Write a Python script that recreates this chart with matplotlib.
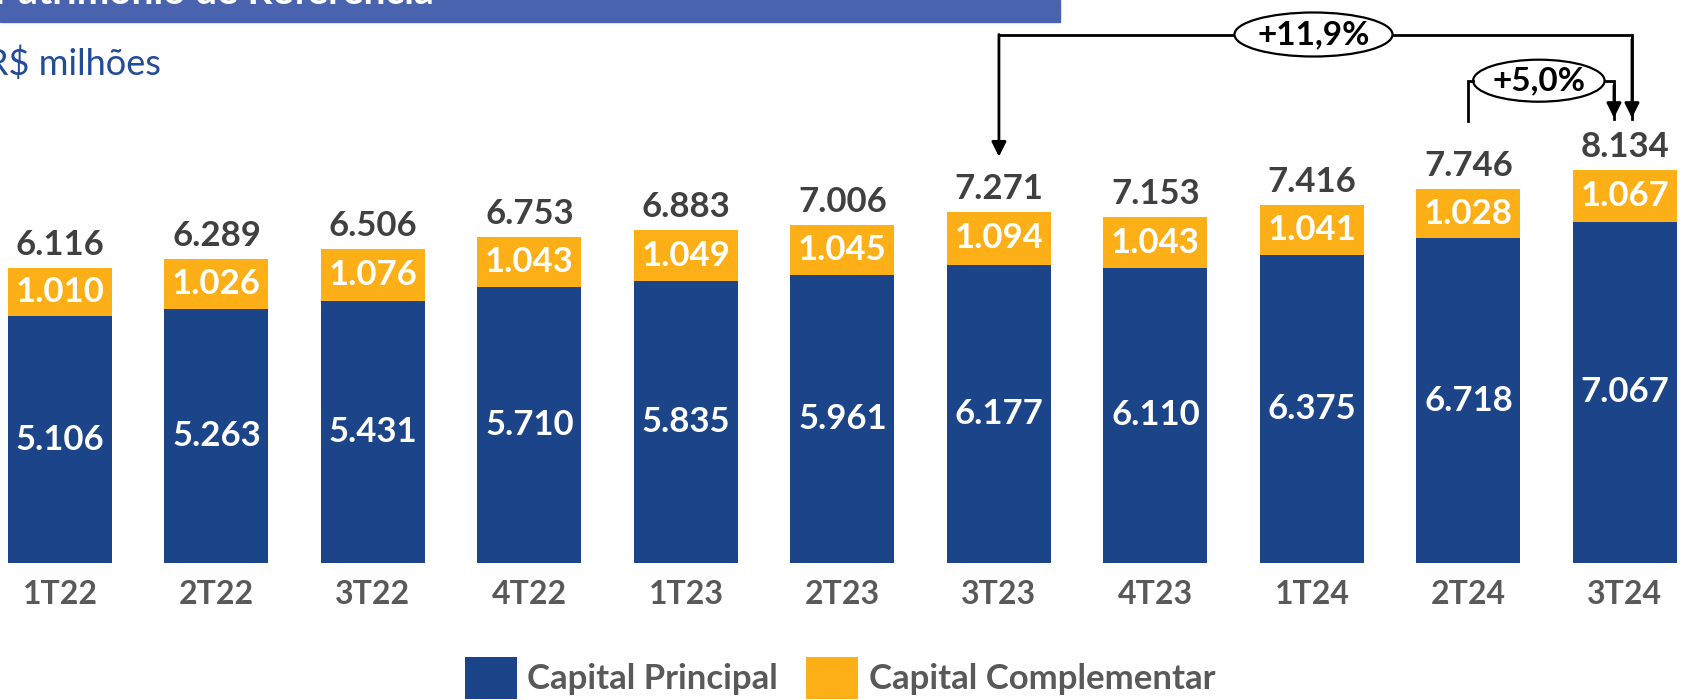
import matplotlib
matplotlib.use("Agg")
import matplotlib.pyplot as plt
from matplotlib.patches import Ellipse, Patch, Rectangle

# Patrimônio de Referência (R$ milhões)
quarters = ["1T22", "2T22", "3T22", "4T22", "1T23", "2T23", "3T23", "4T23", "1T24", "2T24", "3T24"]
capital_principal = [5106, 5263, 5431, 5710, 5835, 5961, 6177, 6110, 6375, 6718, 7067]
capital_complementar = [1010, 1026, 1076, 1043, 1049, 1045, 1094, 1043, 1041, 1028, 1067]
totais = [6116, 6289, 6506, 6753, 6883, 7006, 7271, 7153, 7416, 7746, 8134]
var_anual = "+11,9%"
var_trimestral = "+5,0%"

BLUE = "#1C4489"
ORANGE = "#FCAF17"
HEADER = "#4A63AE"
SUB = "#234C98"
DARK = "#404040"
GRAY = "#595959"
FONT = "Lato"

plt.rcParams["font.family"] = [FONT, "DejaVu Sans"]

fig = plt.figure(figsize=(16.88, 7.0), dpi=100)
ax = fig.add_axes([0, 0, 1, 1])
ax.set_xlim(-0.383, 10.403)
upp = 20.7  # value units per pixel
ax.set_ylim(-137 * upp, (700 - 137) * upp)
ax.axis("off")

x = list(range(len(quarters)))
w = 0.665
ax.bar(x, capital_principal, width=w, color=BLUE, edgecolor="none")
ax.bar(x, capital_complementar, width=w, bottom=capital_principal, color=ORANGE, edgecolor="none")


def fmt(v):
    return f"{v:,}".replace(",", ".")


for i in x:
    cp, cc, tot = capital_principal[i], capital_complementar[i], totais[i]
    ax.text(i, cp / 2, fmt(cp), ha="center", va="center",
            color="white", fontsize=25, fontweight="bold")
    ax.text(i, cp + cc / 2, fmt(cc), ha="center", va="center",
            color="white", fontsize=25, fontweight="bold")
    ax.text(i, tot + 23 * upp, fmt(tot), ha="center", va="center",
            color=DARK, fontsize=25, fontweight="bold")
    ax.text(i, -32 * upp, quarters[i], ha="center", va="center",
            color=GRAY, fontsize=23, fontweight="bold")

# Header band and unit subtitle
fig.patches.append(Rectangle((0, 1 - 21.5 / 700), 1060 / 1688, 21.5 / 700,
                             transform=fig.transFigure, color=HEADER, zorder=0))
fig.text(-6 / 1688, 1 - 4 / 700, "Patrimônio de Referência", color="white",
         fontsize=28, fontweight="bold", ha="left", va="baseline")
fig.text(-14 / 1688, 1 - 64 / 700, "R$ milhões", color=SUB, fontsize=26,
         ha="left", va="center")


def arrow_down(xp, y0, y1):
    ax.annotate("", xy=(xp, y1), xytext=(xp, y0),
                arrowprops=dict(arrowstyle="-|>", lw=2, color="black",
                                mutation_scale=22, shrinkA=0, shrinkB=0))


lw = 2
# 3T23 -> 3T24
y_top = (563 - 34.5) * upp
i0, i1 = 6, 10
ex1 = 8.01
ew1, eh1 = 1.01, 44 * upp
ax.plot([i0, ex1 - ew1 / 2], [y_top, y_top], color="black", lw=lw, solid_capstyle="butt")
ax.plot([ex1 + ew1 / 2, i1 + 0.045, i1 + 0.045], [y_top, y_top, totais[i1] + 1050],
        color="black", lw=lw, solid_joinstyle="miter")
arrow_down(i0, y_top, totais[i0] + 1140)
arrow_down(i1 + 0.045, y_top - 100, totais[i1] + 1080)
ax.add_patch(Ellipse((ex1, y_top), ew1, eh1, facecolor="white", edgecolor="black", lw=1.6))
ax.text(ex1, y_top, var_anual, ha="center", va="center", fontsize=24, fontweight="bold", color="black")

# 2T24 -> 3T24
y_mid = (563 - 80.7) * upp
j0, j1 = 9, 10
ex2 = 9.45
ew2, eh2 = 0.84, 42 * upp
ax.plot([j0, j0, ex2 - ew2 / 2], [totais[j0] + 1410, y_mid, y_mid], color="black", lw=lw,
        solid_joinstyle="miter")
ax.plot([ex2 + ew2 / 2, j1 - 0.07, j1 - 0.07], [y_mid, y_mid, totais[j1] + 1050],
        color="black", lw=lw, solid_joinstyle="miter")
arrow_down(j1 - 0.07, y_mid - 100, totais[j1] + 1080)
ax.add_patch(Ellipse((ex2, y_mid), ew2, eh2, facecolor="white", edgecolor="black", lw=1.6))
ax.text(ex2, y_mid, var_trimestral, ha="center", va="center", fontsize=24, fontweight="bold", color="black")

handles = [Patch(facecolor=BLUE, edgecolor="none", label="Capital Principal"),
           Patch(facecolor=ORANGE, edgecolor="none", label="Capital Complementar")]
leg = fig.legend(handles=handles, loc="center", bbox_to_anchor=(840 / 1688, 1 - 678 / 700),
                 ncol=2, frameon=False, fontsize=25, handlelength=1.5, handleheight=1.5,
                 handletextpad=0.3, columnspacing=0.8, borderpad=0)
for t in leg.get_texts():
    t.set_color(GRAY)
    t.set_fontweight("bold")

fig.savefig("out.png", dpi=100)
